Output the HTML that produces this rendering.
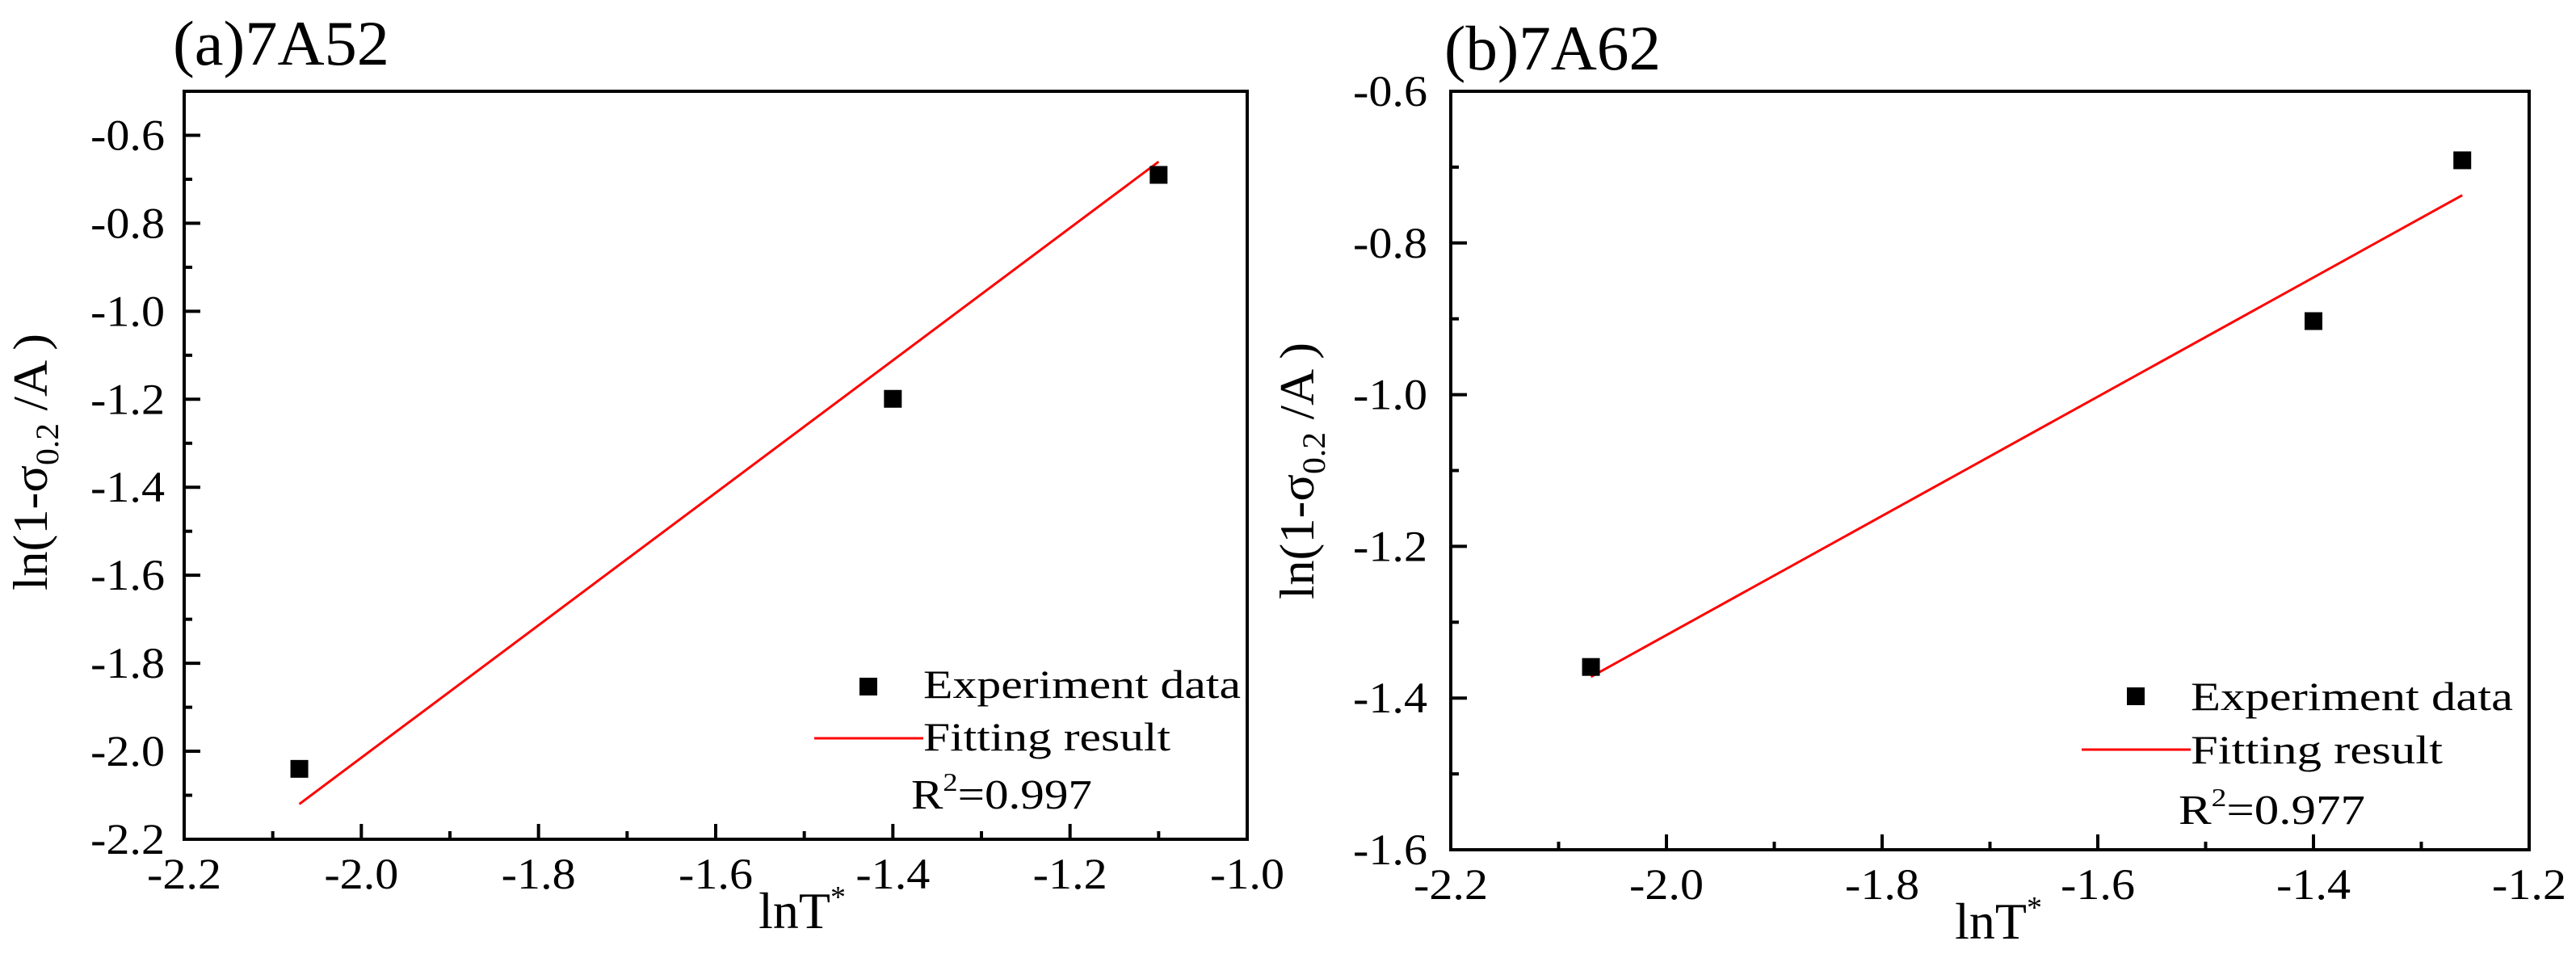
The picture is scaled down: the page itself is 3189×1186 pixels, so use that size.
<!DOCTYPE html>
<html><head><meta charset="utf-8">
<style>
html,body{margin:0;padding:0;background:#fff;}
svg{display:block;font-family:"Liberation Serif",serif;}
</style></head>
<body>
<svg id="chart" width="3189" height="1186" viewBox="0 0 3189 1186" xmlns="http://www.w3.org/2000/svg"></svg>
<script>
// Panel (a) 7A52 data
const aExpX = [-2.07, -1.40, -1.10];
const aExpY = [-2.04, -1.199, -0.69];
const aFitX = [-2.07, -1.10];
const aFitY = [-2.12, -0.66];
const aXTicks = [-2.2, -2.0, -1.8, -1.6, -1.4, -1.2, -1.0];
const aYTicks = [-2.2, -2.0, -1.8, -1.6, -1.4, -1.2, -1.0, -0.8, -0.6];
const aXLabels = ["-2.2","-2.0","-1.8","-1.6","-1.4","-1.2","-1.0"];
const aYLabels = ["-2.2","-2.0","-1.8","-1.6","-1.4","-1.2","-1.0","-0.8","-0.6"];
// Panel (b) 7A62 data
const bExpX = [-2.07, -1.40, -1.262];
const bExpY = [-1.359, -0.903, -0.691];
const bFitX = [-2.07, -1.262];
const bFitY = [-1.372, -0.737];
const bXTicks = [-2.2, -2.0, -1.8, -1.6, -1.4, -1.2];
const bYTicks = [-1.6, -1.4, -1.2, -1.0, -0.8, -0.6];
const bXLabels = ["-2.2","-2.0","-1.8","-1.6","-1.4","-1.2"];
const bYLabels = ["-1.6","-1.4","-1.2","-1.0","-0.8","-0.6"];

const NS = "http://www.w3.org/2000/svg";
const svg = document.getElementById('chart');
function mk(tag, attrs, parent){
  const e = document.createElementNS(NS, tag);
  for (const k in attrs) e.setAttribute(k, attrs[k]);
  (parent||svg).appendChild(e);
  return e;
}

function drawPanel(cfg){
  const g = mk('g', {});
  
  
  const sx = v => cfg.x0 + (v - cfg.xmin) / (cfg.xmax - cfg.xmin) * (cfg.x1 - cfg.x0);
  const sy = v => cfg.y1 - (v - cfg.ymin) / (cfg.ymax - cfg.ymin) * (cfg.y1 - cfg.y0);

  const fr = mk('rect', {x:cfg.x0, y:cfg.y0, width:cfg.x1-cfg.x0, height:cfg.y1-cfg.y0, fill:'none', stroke:'#000', 'stroke-width':4}, g);
  
  

  cfg.xTicks.forEach((t, i) => {
    const x = sx(t);
    const tk = mk('line', {x1:x, x2:x, y1:cfg.y1, y2:cfg.y1-19, stroke:'#000', 'stroke-width':4}, g);
    
    
    if (i < cfg.xTicks.length - 1) {
      const xm = sx((t + cfg.xTicks[i+1]) / 2);
      const mt = mk('line', {x1:xm, x2:xm, y1:cfg.y1, y2:cfg.y1-10, stroke:'#000', 'stroke-width':4}, g);
      
      
    }
    const lb = mk('text', {x:x, y:cfg.y1+61, 'font-size':54, 'text-anchor':'middle', textLength:92, lengthAdjust:'spacingAndGlyphs', fill:'#000'}, g);
    lb.textContent = cfg.xLabels[i];
    
    
  });
  cfg.yTicks.forEach((t, i) => {
    const y = sy(t);
    const tk = mk('line', {x1:cfg.x0, x2:cfg.x0+20, y1:y, y2:y, stroke:'#000', 'stroke-width':4}, g);
    
    
    if (i < cfg.yTicks.length - 1) {
      const ym = sy((t + cfg.yTicks[i+1]) / 2);
      const mt = mk('line', {x1:cfg.x0, x2:cfg.x0+10, y1:ym, y2:ym, stroke:'#000', 'stroke-width':4}, g);
      
      
    }
    const lb = mk('text', {x:cfg.x0-cfg.labGap, y:y+18, 'font-size':54, 'text-anchor':'end', textLength:92, lengthAdjust:'spacingAndGlyphs', fill:'#000'}, g);
    lb.textContent = cfg.yLabels[i];
    
    
  });

  const fl = mk('line', {x1:sx(cfg.fitX[0]), y1:sy(cfg.fitY[0]), x2:sx(cfg.fitX[1]), y2:sy(cfg.fitY[1]), stroke:'#ff0000', 'stroke-width':3}, g);
  
  

  cfg.expX.forEach((v, i) => {
    const p = mk('rect', {x:sx(v)-11, y:sy(cfg.expY[i])-11, width:22, height:22, fill:'#000'}, g);
    
    
  });

  const L = cfg.leg;
  const lm = mk('rect', {x:L.mx-11, y:L.my-11, width:22, height:22, fill:'#000'}, g);
  
  
  const t1 = mk('text', {x:L.tx, y:L.b1, 'font-size':50, textLength:L.w1, lengthAdjust:'spacingAndGlyphs', fill:'#000'}, g);
  t1.textContent = 'Experiment data';
  
  
  const ll = mk('line', {x1:L.lx, x2:L.tx, y1:L.ly, y2:L.ly, stroke:'#ff0000', 'stroke-width':3}, g);
  
  
  const t2 = mk('text', {x:L.tx, y:L.b2, 'font-size':50, textLength:L.w2, lengthAdjust:'spacingAndGlyphs', fill:'#000'}, g);
  t2.textContent = 'Fitting result';
  
  
  const t3 = mk('text', {x:L.rx, y:L.b3, 'font-size':52, textLength:L.w3, lengthAdjust:'spacingAndGlyphs', fill:'#000'}, g);
  t3.innerHTML = 'R<tspan dy="-22" font-size="32">2</tspan><tspan dy="22">=' + cfg.r2 + '</tspan>';
  
  

  const tt = mk('text', {x:cfg.tx, y:cfg.ty, 'font-size':78, textLength:268, lengthAdjust:'spacingAndGlyphs', fill:'#000'}, g);
  tt.textContent = cfg.title;
  
  

  const xt = mk('text', {x:cfg.xtx, y:cfg.y1+110, 'font-size':64, 'text-anchor':'middle', fill:'#000'}, g);
  xt.innerHTML = 'lnT<tspan dy="-26" font-size="38">*</tspan>';
  
  

  const yt = mk('text', {x:0, y:0, 'font-size':60, 'text-anchor':'middle', textLength:318, lengthAdjust:'spacingAndGlyphs', transform:'translate(' + (cfg.ytx+20) + ',' + cfg.yty + ') rotate(-90)', fill:'#000'}, g);
  yt.innerHTML = 'ln(1-σ<tspan dy="14" font-size="40">0.2</tspan><tspan dy="-14"> /A )</tspan>';
  
  
}

drawPanel({
  name:'panel-a-7A52', title:'(a)7A52', tx:214, ty:80,
  x0:228, x1:1544, y0:113, y1:1039, xmin:-2.2, xmax:-1.0, ymin:-2.2, ymax:-0.5,
  xTicks:aXTicks, yTicks:aYTicks, xLabels:aXLabels, yLabels:aYLabels, labGap:24,
  expX:aExpX, expY:aExpY, fitX:aFitX, fitY:aFitY, r2:'0.997',
  leg:{mx:1075, my:850, tx:1143, b1:864, w1:393, lx:1008, ly:914, b2:929, w2:306, rx:1128, b3:1001, w3:224},
  xtx:993, ytx:38, yty:572
});
drawPanel({
  name:'panel-b-7A62', title:'(b)7A62', tx:1788, ty:86,
  x0:1796, x1:3131, y0:113, y1:1052, xmin:-2.2, xmax:-1.2, ymin:-1.6, ymax:-0.6,
  xTicks:bXTicks, yTicks:bYTicks, xLabels:bXLabels, yLabels:bYLabels, labGap:29,
  expX:bExpX, expY:bExpY, fitX:bFitX, fitY:bFitY, r2:'0.977',
  leg:{mx:2644, my:862, tx:2712, b1:879, w1:399, lx:2577, ly:928, b2:945, w2:312, rx:2697, b3:1020, w3:231},
  xtx:2474, ytx:1606, yty:583
});
</script>
</body></html>
